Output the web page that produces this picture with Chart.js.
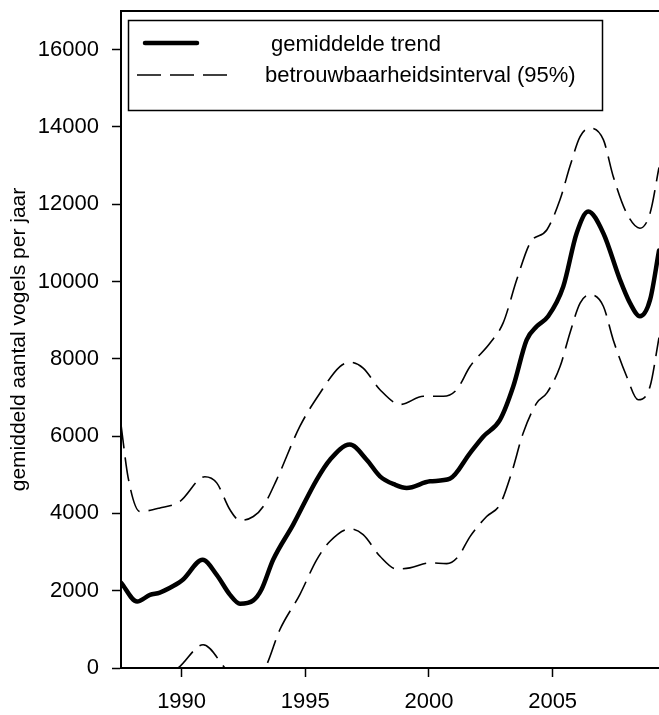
<!DOCTYPE html>
<html>
<head>
<meta charset="utf-8">
<script src="https://cdn.jsdelivr.net/npm/chart.js@4.4.0/dist/chart.umd.min.js"></script>
<style>
  body { margin: 0; background: #fff; }
  #wrap { width: 659px; height: 715px; }
</style>
</head>
<body>
<div id="wrap"><canvas id="myChart" width="659" height="715"></canvas></div>
<script>
// gemiddelde trend
var trendYears = [1987.55, 1988.20, 1988.72, 1989.12, 1989.66, 1990.06, 1990.85, 1991.42, 1991.95, 1992.36,
    1992.90, 1993.23, 1993.70, 1994.51, 1995.46, 1996.00, 1996.80, 1997.48, 1998.02, 1998.64, 1999.10,
    2000.04, 2000.85, 2001.66, 2002.20, 2002.87, 2003.41, 2003.95, 2004.36, 2004.82, 2005.43, 2005.97,
    2006.44, 2007.05, 2007.72, 2008.13, 2008.53, 2008.94, 2009.30];
var trendValues = [2210, 1720, 1890, 1950, 2120, 2290, 2800, 2410, 1900, 1665,
    1750, 2030, 2800, 3710, 4870, 5390, 5780, 5390, 4960, 4740, 4660,
    4830, 4900, 5560, 5990, 6420, 7290, 8490, 8840, 9100, 9870, 11250,
    11810, 11250, 10050, 9440, 9100, 9530, 10800];

// bovengrens betrouwbaarheidsinterval
var upperYears = [1987.55, 1987.84, 1988.31, 1989.12, 1989.93, 1990.94, 1991.42, 1991.95, 1992.36, 1992.90,
    1993.30, 1993.84, 1994.78, 1995.59, 1996.40, 1996.81, 1997.34, 1998.02, 1998.85, 1999.77,
    2000.58, 2001.12, 2001.66, 2002.47, 2003.00, 2003.55, 2004.09, 2004.77, 2005.30, 2005.70,
    2006.11, 2006.51, 2007.05, 2007.45, 2007.99, 2008.53, 2008.94, 2009.30];
var upperValues = [6300, 4920, 4050, 4140, 4310, 4950, 4790, 4100, 3820, 3920,
    4180, 4870, 6250, 7110, 7800, 7910, 7760, 7200, 6820, 7030,
    7030, 7200, 7800, 8410, 8930, 10050, 11000, 11340, 12120, 12980,
    13750, 13970, 13670, 12720, 11770, 11380, 11770, 12950];

// ondergrens betrouwbaarheidsinterval
var lowerYears = [1987.55, 1988.20, 1989.12, 1989.86, 1990.87, 1991.75, 1992.36, 1993.37, 1993.97, 1994.78,
    1995.46, 1996.00, 1996.81, 1997.34, 1998.02, 1998.70, 1999.23, 2000.04, 2000.72, 2001.19,
    2001.66, 2002.33, 2002.87, 2003.34, 2003.81, 2004.36, 2004.77, 2005.30, 2005.70, 2006.11,
    2006.51, 2007.05, 2007.45, 2007.99, 2008.46, 2008.94, 2009.30];
var lowerValues = [-1900, -600, -230, 0, 600, 0, -480, 0, 990, 1900,
    2800, 3280, 3600, 3450, 2890, 2560, 2590, 2720, 2700, 2890,
    3400, 3920, 4230, 5050, 6080, 6860, 7120, 7800, 8670, 9440,
    9660, 9360, 8490, 7550, 6940, 7290, 8550];

var xTicks = [1990, 1995, 2000, 2005];
var yTicks = [0, 2000, 4000, 6000, 8000, 10000, 12000, 14000, 16000];

var labelTrend = 'gemiddelde trend';
var labelInterval = 'betrouwbaarheidsinterval (95%)';
var yTitle = 'gemiddeld aantal vogels per jaar';

var fontName = "'Liberation Sans', Arial, sans-serif";
var dashes = [24, 9];

function toPoints(xs, ys) {
    var pts = [];
    for (let i = 0; i < xs.length; i++) {
        pts.push({ x: xs[i], y: ys[i] });
    }
    return pts;
}

// legend in a framed box, top left of the plot
var boxLegend = {
    id: 'boxLegend',
    afterDraw: function (chart) {
        var ctx = chart.ctx;
        var sets = chart.data.datasets;
        ctx.save();
        ctx.strokeStyle = '#000';
        ctx.lineWidth = 1.5;
        ctx.strokeRect(128.5, 20.5, 474, 90);

        // row 1: thick line
        ctx.lineWidth = sets[0].borderWidth;
        ctx.lineCap = 'round';
        ctx.setLineDash([]);
        ctx.beginPath();
        ctx.moveTo(145, 43);
        ctx.lineTo(197, 43);
        ctx.stroke();

        // row 2: dashed line
        ctx.lineWidth = sets[1].borderWidth;
        ctx.lineCap = 'butt';
        ctx.setLineDash(sets[1].borderDash);
        ctx.beginPath();
        ctx.moveTo(137, 75);
        ctx.lineTo(230, 75);
        ctx.stroke();
        ctx.setLineDash([]);

        ctx.fillStyle = '#000';
        ctx.font = '22px ' + fontName;
        ctx.textBaseline = 'middle';
        ctx.textAlign = 'left';
        ctx.fillText(sets[0].label, 271, 45);
        ctx.fillText(sets[1].label, 265, 76);
        ctx.restore();
    }
};

// frame line along the top of the plot
var topLine = {
    id: 'topLine',
    afterDraw: function (chart) {
        var a = chart.chartArea;
        var ctx = chart.ctx;
        ctx.save();
        ctx.strokeStyle = '#000';
        ctx.lineWidth = 2;
        ctx.beginPath();
        ctx.moveTo(a.left - 1, a.top);
        ctx.lineTo(a.right, a.top);
        ctx.stroke();
        ctx.restore();
    }
};

var ctx = document.getElementById('myChart').getContext('2d');
var myChart = new Chart(ctx, {
    type: 'line',
    data: {
        datasets: [{
            label: labelTrend,
            data: toPoints(trendYears, trendValues),
            borderColor: '#000',
            borderWidth: 4.5,
            borderCapStyle: 'round',
            pointRadius: 0,
            cubicInterpolationMode: 'monotone',
            fill: false
        }, {
            label: labelInterval,
            data: toPoints(upperYears, upperValues),
            borderColor: '#000',
            borderWidth: 1.6,
            borderDash: dashes,
            pointRadius: 0,
            cubicInterpolationMode: 'monotone',
            fill: false
        }, {
            label: labelInterval,
            data: toPoints(lowerYears, lowerValues),
            borderColor: '#000',
            borderWidth: 1.6,
            borderDash: dashes,
            pointRadius: 0,
            cubicInterpolationMode: 'monotone',
            fill: false
        }]
    },
    options: {
        responsive: false,
        animation: false,
        layout: { padding: { top: 11, right: 0, bottom: 0, left: 0 } },
        plugins: {
            legend: { display: false },
            tooltip: { enabled: false }
        },
        scales: {
            x: {
                type: 'linear',
                min: 1987.55,
                max: 2009.3,
                afterBuildTicks: function (s) {
                    s.ticks = xTicks.map(function (v) { return { value: v }; });
                },
                afterFit: function (s) {
                    s.height = 47;
                    s.paddingLeft = 0;
                    s.paddingRight = 0;
                },
                border: { display: true, color: '#000', width: 2 },
                grid: { drawOnChartArea: false, drawTicks: true, tickLength: 9, tickColor: '#000', tickWidth: 1.5 },
                ticks: {
                    color: '#000',
                    padding: 12,
                    maxRotation: 0,
                    font: { family: fontName, size: 22 },
                    callback: function (v) { return String(v); }
                }
            },
            y: {
                min: 0,
                max: 17000,
                afterBuildTicks: function (s) {
                    s.ticks = yTicks.map(function (v) { return { value: v }; });
                },
                afterFit: function (s) {
                    s.width = 121;
                    s.paddingTop = 0;
                    s.paddingBottom = 0;
                },
                border: { display: true, color: '#000', width: 2 },
                grid: { drawOnChartArea: false, drawTicks: true, tickLength: 9, tickColor: '#000', tickWidth: 1.5 },
                ticks: {
                    color: '#000',
                    padding: 13,
                    font: { family: fontName, size: 22 },
                    callback: function (v) { return String(v); }
                },
                title: {
                    display: true,
                    text: yTitle,
                    color: '#000',
                    font: { family: fontName, size: 21 },
                    padding: { top: 7, bottom: 0 }
                }
            }
        }
    },
    plugins: [boxLegend, topLine]
});
</script>
</body>
</html>
